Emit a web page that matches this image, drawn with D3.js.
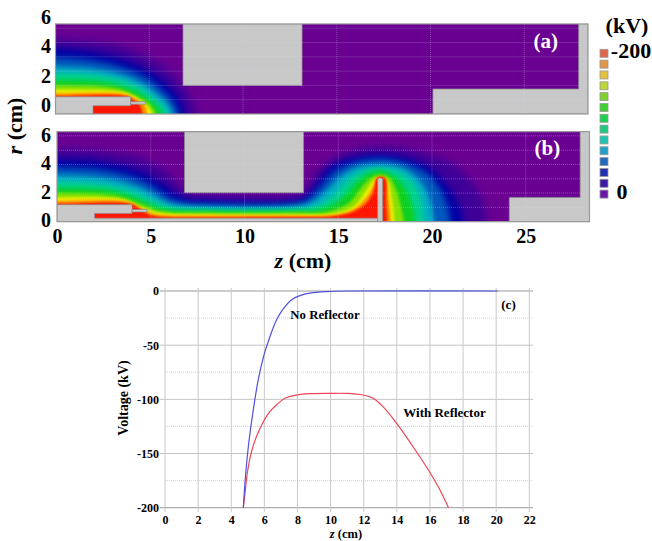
<!DOCTYPE html>
<html>
<head>
<meta charset="utf-8">
<script src="https://cdn.jsdelivr.net/npm/d3@7"></script>
<style>
  html, body { margin: 0; padding: 0; background: #fff; }
  svg { display: block; }
  text { font-family: "Liberation Serif", serif; font-weight: bold; fill: #000; }
</style>
</head>
<body>
<div id="chart"></div>
<script>
// potential bands, outermost first (colours as seen in the field plots)
var bandColors = ["#3c0098", "#0000a4", "#0058bc", "#00b0c0", "#00d08c", "#08d020", "#88e000", "#ecec00", "#ff9000", "#ff1400"];
var bandBlur = [4.5, 3.5, 3, 2.5, 2, 2, 1.6, 1.2, 1, 0.8];
var fieldBase = "#6a0092";

// contours, [z cm, r cm]
var contoursA = [
  [[0,5.25],[2,5.05],[3.5,4.7],[5,3.9],[6.3,2.7],[7,1.6],[7.35,0.8],[7.55,0]],
  [[0,4.65],[2,4.35],[3.5,3.9],[5,3.0],[6.1,1.9],[6.65,1],[6.9,0]],
  [[0,3.95],[2,3.75],[3.5,3.3],[4.95,2.45],[5.9,1.4],[6.35,0.7],[6.55,0]],
  [[0,3.3],[2,3.15],[3.5,2.75],[4.75,2.05],[5.6,1.2],[6.05,0.6],[6.25,0]],
  [[0,2.85],[2,2.75],[3.3,2.45],[4.55,1.8],[5.35,1.0],[5.8,0.5],[5.95,0]],
  [[0,2.4],[2,2.3],[3.3,2.05],[4.35,1.55],[5.1,0.9],[5.5,0.4],[5.65,0]],
  [[0,2.0],[2,1.95],[3.4,1.75],[4.2,1.35],[4.9,0.8],[5.2,0.4],[5.35,0]],
  [[0,1.7],[3.5,1.55],[4.2,1.2],[4.8,0.7],[5.05,0.3],[5.15,0]],
  [[0,1.45],[3.6,1.4],[4.2,1.1],[4.7,0.7],[4.85,0.3],[4.88,0]],
  [[0,1.25],[3.8,1.25],[4.15,1.0],[4.45,0.7],[4.6,0.3],[4.62,0]]
];

// contours
var contoursB = [
  [[0,5.1],[2.5,4.9],[4.5,4.4],[5.8,3.5],[6.5,2.5],[6.9,2.05],[8,1.85],[12.4,1.85],[13.15,2.0],[13.35,2.6],[14,3.6],[15,4.6],[16,5.05],[17.23,5.25],[19,5.0],[21,4.1],[22.3,2.5],[22.8,1],[22.9,0]],
  [[0,4.4],[2.5,4.2],[4.5,3.5],[5.6,2.7],[6.3,2.0],[7,1.6],[8,1.5],[12.43,1.4],[13.15,1.65],[13.75,2.45],[14.55,3.85],[16,4.55],[17.23,4.72],[18.65,4.45],[20.07,3.6],[21.1,1.98],[21.5,1],[21.65,0]],
  [[0,3.8],[2.5,3.6],[4.3,3.0],[5.3,2.3],[6,1.65],[6.8,1.35],[8,1.25],[12.4,1.25],[13.3,1.5],[13.95,2.3],[14.8,3.5],[16,4.2],[17.23,4.4],[18.6,4.1],[19.9,3.2],[20.5,2.1],[20.85,0.9],[20.95,0]],
  [[0,3.25],[2.5,3.05],[4,2.6],[5,2.0],[5.8,1.4],[6.6,1.15],[8,1.05],[12.43,1.05],[13.4,1.28],[14.2,1.98],[15.1,3.15],[16,3.8],[17.23,4.0],[18.5,3.73],[19.45,2.7],[19.9,1.5],[20.1,0]],
  [[0,2.8],[2.5,2.6],[4.2,2.05],[5.2,1.45],[6,1.05],[7,0.92],[12.4,0.9],[13.8,1.1],[14.8,1.9],[15.6,3.0],[16.4,3.6],[17.23,3.78],[18.2,3.5],[19,2.7],[19.4,1.5],[19.55,0]],
  [[0,2.35],[3,2.15],[4.5,1.5],[5.4,1.0],[6.3,0.8],[7.5,0.75],[12.43,0.75],[14.2,0.93],[15.3,1.75],[16.1,2.9],[16.7,3.4],[17.23,3.56],[17.85,3.26],[18.5,2.45],[18.9,1.3],[19.1,0]],
  [[0,2.0],[3.2,1.8],[4.5,1.22],[5.3,0.82],[6.2,0.65],[7.5,0.62],[12.4,0.62],[14.5,0.72],[15.6,1.35],[16.3,2.5],[16.8,3.1],[17.23,3.3],[17.7,3.1],[18.1,2.2],[18.35,1],[18.5,0]],
  [[0,1.7],[3.5,1.55],[4.5,1.0],[5.2,0.7],[6,0.55],[7.5,0.52],[12.43,0.51],[14.74,0.58],[15.8,1.05],[16.5,2.2],[16.87,2.9],[17.23,3.15],[17.62,2.9],[17.85,1.75],[18,0]],
  [[0,1.45],[3.7,1.4],[4.5,0.92],[5.1,0.55],[6,0.44],[7.5,0.42],[12.4,0.42],[14.7,0.46],[15.8,0.85],[16.5,1.7],[16.9,2.55],[17.2,3.1],[17.5,2.9],[17.7,1.5],[17.8,0]],
  [[0,1.25],[3.9,1.25],[4.5,0.85],[4.9,0.5],[5.4,0.35],[7,0.3],[12.4,0.33],[14.7,0.38],[15.8,0.7],[16.5,1.3],[16.9,2.2],[17.05,3.05],[17.5,3.05],[17.55,1.5],[17.6,0]]
];

// metal parts, polygons in [z, r]
var wallsA = [
  [[6.8,6.3],[13.15,6.3],[13.15,2],[6.8,2]],
  [[20.13,0],[20.13,1.75],[27.9,1.75],[27.9,6.3],[28.4,6.3],[28.4,0]],
  [[0,0],[0,1.2],[4,1.2],[4,0.58],[2,0.58],[2,0]],
  [[4,0.68],[4.8,0.68],[4.8,0.86],[4,0.86]]
];
var wallsB = [
  [[6.8,6.3],[13.15,6.3],[13.15,2.03],[6.8,2.03]],
  [[24.12,0],[24.12,1.7],[27.9,1.7],[27.9,6.3],[28.4,6.3],[28.4,0]],
  [[0,0],[0,1.19],[4,1.19],[4,0.58],[2,0.58],[2,0.25],[17.1,0.25],[17.1,0]],
  [[4,0.68],[4.8,0.68],[4.8,0.86],[4,0.86]],
  [[17.1,0],[17.1,2.95],[17.18,3.05],[17.3,3.05],[17.37,2.95],[17.37,0]]
];

var fieldZTicks = [0, 5, 10, 15, 20, 25];
var fieldRTicks = [0, 2, 4, 6];
var gridZ = [5, 10, 15, 20, 25];
var gridR = [1, 2, 3, 4, 5, 6];

var legendColors = ["#e0654a", "#e09548", "#e2c23c", "#bcd838", "#80d030", "#40d030", "#20d050", "#20c880", "#20c4b0", "#20a0c8", "#2068c0", "#2030b0", "#3a18a8", "#6a18a8"];

// panel (c)
var noReflZ = [4.73, 4.83, 5.03, 5.33, 5.63, 5.98, 6.34, 6.74, 7.14, 7.65, 8.15, 8.75, 9.76, 11, 20.1];
var noReflV = [-200, -177, -144, -110, -82, -59, -42, -26.5, -16.5, -8, -4.3, -2, -0.6, 0, 0];
var reflZ = [4.73, 4.83, 4.97, 5.23, 5.53, 5.94, 6.34, 6.74, 7.24, 7.95, 8.75, 9.96, 10.96, 11.97, 12.57, 13.18, 13.98, 14.99, 16, 16.6, 17.12];
var reflV = [-200, -187, -168, -148, -134, -120.6, -111, -105, -99, -96, -94.8, -94.5, -94.5, -96, -99, -107, -122, -144, -167.5, -183.5, -200];
var voltTicks = [0, -50, -100, -150, -200];
var voltMinor = [-25, -75, -125, -175];
var zTicks = [0, 2, 4, 6, 8, 10, 12, 14, 16, 18, 20, 22];

var svg = d3.select("#chart").append("svg").attr("width", 652).attr("height", 541);
var defs = svg.append("defs");
bandBlur.forEach(function (b, i) {
  defs.append("filter").attr("id", "soft" + i)
      .attr("filterUnits", "userSpaceOnUse")
      .attr("x", 0).attr("y", 0).attr("width", 652).attr("height", 541)
    .append("feGaussianBlur").attr("stdDeviation", b);
});

function drawField(id, left, bottom, contours, walls, label) {
  var x = d3.scaleLinear().domain([0, 28.4]).range([left, left + 28.4 * 18.75]);
  var y = d3.scaleLinear().domain([0, 6.3]).range([bottom, bottom - 6.3 * 14.3]);

  defs.append("clipPath").attr("id", "clip" + id)
    .append("rect")
      .attr("x", x(0)).attr("y", y(6.3))
      .attr("width", x(28.4) - x(0)).attr("height", y(0) - y(6.3));

  var g = svg.append("g").attr("clip-path", "url(#clip" + id + ")");
  g.append("rect")
    .attr("x", x(0)).attr("y", y(6.3))
    .attr("width", x(28.4) - x(0)).attr("height", y(0) - y(6.3))
    .attr("fill", fieldBase);

  var curve = d3.line().x(function (d) { return x(d[0]); }).y(function (d) { return y(d[1]); })
                .curve(d3.curveCatmullRom.alpha(0.5));
  var poly = d3.line().x(function (d) { return x(d[0]); }).y(function (d) { return y(d[1]); });

  // each band is filled from its contour down to the axis, run well past the edge so the blur stays inside
  g.selectAll("path.band")
    .data(contours)
    .enter().append("path")
      .attr("class", "band")
      .attr("fill", function (d, i) { return bandColors[i]; })
      .attr("filter", function (d, i) { return "url(#soft" + i + ")"; })
      .attr("d", function (d) {
        var first = d[0], last = d[d.length - 1];
        return curve([[-2, first[1]]].concat(d, [[last[0], -2]])) +
               "L" + x(-2) + "," + y(-2) + "Z";
      });

  g.selectAll("path.wall").data(walls).enter().append("path")
    .attr("class", "wall")
    .attr("d", function (d) { return poly(d) + "Z"; })
    .attr("fill", "#c8c8c8")
    .attr("stroke", "#8c8c8c")
    .attr("stroke-width", 0.7);

  // dotted grid
  g.selectAll("line.gz").data(gridZ).enter().append("line")
    .attr("class", "gz")
    .attr("x1", x).attr("x2", x).attr("y1", y(6.3)).attr("y2", y(0))
    .attr("stroke", "#d8e0ff").attr("stroke-opacity", 0.32).attr("stroke-dasharray", "1,1");
  g.selectAll("line.gr").data(gridR).enter().append("line")
    .attr("class", "gr")
    .attr("x1", x(0)).attr("x2", x(28.4)).attr("y1", y).attr("y2", y)
    .attr("stroke", "#d8e0ff").attr("stroke-opacity", 0.32).attr("stroke-dasharray", "1,1");

  svg.append("rect")
    .attr("x", x(0)).attr("y", y(6.3))
    .attr("width", x(28.4) - x(0)).attr("height", y(0) - y(6.3))
    .attr("fill", "none").attr("stroke", "#999").attr("stroke-width", 1.2);

  svg.append("text")
    .attr("x", x(26.15)).attr("y", y(6.3) + 19)
    .attr("text-anchor", "middle").attr("dominant-baseline", "middle")
    .style("font-size", "21px").style("fill", "#fff")
    .text(label);

  return x;
}

var xA = drawField("a", 55.5, 114, contoursA, wallsA, "(a)");
var xB = drawField("b", 57, 221.7, contoursB, wallsB, "(b)");

// big tick labels, they sit off the grid in the original
function bigAxis(g) {
  g.select(".domain").remove();
  g.selectAll("line").remove();
  g.selectAll("text").style("font-size", "20px").style("font-family", '"Liberation Serif", serif')
    .style("font-weight", "bold").attr("fill", "#000");
}

var rLabelsA = d3.scaleLinear().domain([0, 6]).range([105, 17]);
var rLabelsB = d3.scaleLinear().domain([0, 6]).range([220, 135]);
svg.append("g").attr("transform", "translate(60,0)")
  .call(d3.axisLeft(rLabelsA).tickValues(fieldRTicks).tickFormat(String)).call(bigAxis);
svg.append("g").attr("transform", "translate(60,0)")
  .call(d3.axisLeft(rLabelsB).tickValues(fieldRTicks).tickFormat(String)).call(bigAxis);
svg.append("g").attr("transform", "translate(0,220)")
  .call(d3.axisBottom(xB).tickValues(fieldZTicks).tickFormat(String)).call(bigAxis);

var zTitle = svg.append("text").attr("x", 303).attr("y", 263)
  .attr("text-anchor", "middle").attr("dominant-baseline", "middle").style("font-size", "22px");
zTitle.append("tspan").style("font-style", "italic").text("z");
zTitle.append("tspan").text(" (cm)");

var rTitle = svg.append("text").attr("transform", "translate(17,126) rotate(-90)")
  .attr("text-anchor", "middle").attr("dominant-baseline", "middle").style("font-size", "22px");
rTitle.append("tspan").style("font-style", "italic").text("r");
rTitle.append("tspan").text(" (cm)");

// colour key
var keyY = d3.scalePoint().domain(d3.range(legendColors.length)).range([53.3, 194.1]);
svg.selectAll("rect.key").data(legendColors).enter().append("rect")
  .attr("class", "key")
  .attr("x", 600).attr("width", 8).attr("height", 8)
  .attr("y", function (d, i) { return keyY(i) - 4; })
  .attr("fill", function (d) { return d; })
  .attr("stroke", "#999").attr("stroke-width", 0.8);

[["(kV)", 627, 28], ["-200", 631, 53], ["0", 622, 194]].forEach(function (t) {
  svg.append("text").attr("x", t[1]).attr("y", t[2])
    .attr("text-anchor", "middle").attr("dominant-baseline", "middle")
    .style("font-size", "22px").text(t[0]);
});

// panel (c) line plot
var x = d3.scaleLinear().domain([0, 22]).range([165, 529.3]);
var y = d3.scaleLinear().domain([-200, 0]).range([507.7, 291]);

var plot = svg.append("g");
plot.selectAll("line.minor").data(voltMinor).enter().append("line")
  .attr("class", "minor")
  .attr("x1", 165).attr("x2", 533).attr("y1", y).attr("y2", y)
  .attr("stroke", "#d4d4d4").attr("stroke-dasharray", "1,1");
plot.selectAll("line.major").data(voltTicks).enter().append("line")
  .attr("class", "major")
  .attr("x1", 160).attr("x2", 533).attr("y1", y).attr("y2", y)
  .attr("stroke", function (d) { return (d === 0 || d === -200) ? "#9a9a9a" : "#c4c4c4"; });
plot.selectAll("line.vert").data(zTicks).enter().append("line")
  .attr("class", "vert")
  .attr("x1", x).attr("x2", x).attr("y1", 288).attr("y2", 512)
  .attr("stroke", "#c8c8c8");

var axisX = d3.axisBottom(x).tickValues(zTicks).tickSize(0).tickPadding(7).tickFormat(String);
var axisY = d3.axisLeft(y).tickValues(voltTicks).tickSize(0).tickPadding(6).tickFormat(String);

function smallAxis(g) {
  g.select(".domain").remove();
  g.selectAll("text").style("font-size", "12px").style("font-family", '"Liberation Serif", serif')
    .style("font-weight", "bold").attr("fill", "#222");
}
svg.append("g").attr("transform", "translate(0,508)").call(axisX).call(smallAxis);
svg.append("g").attr("transform", "translate(165,0)").call(axisY).call(smallAxis);

var voltLine = d3.line().curve(d3.curveCatmullRom.alpha(0.5))
  .x(function (d) { return x(d[0]); })
  .y(function (d) { return y(d[1]); });

plot.append("path").datum(d3.zip(reflZ, reflV))
  .attr("d", voltLine).attr("fill", "none").attr("stroke", "#ee4455").attr("stroke-width", 1.2);
plot.append("path").datum(d3.zip(noReflZ, noReflV))
  .attr("d", voltLine).attr("fill", "none").attr("stroke", "#5050e0").attr("stroke-width", 1.2);

[["No Reflector", 325, 316, 12.8], ["With Reflector", 444.5, 414, 13], ["(c)", 508.5, 306, 13]].forEach(function (t) {
  svg.append("text").attr("x", t[1]).attr("y", t[2])
    .attr("text-anchor", "middle").attr("dominant-baseline", "middle")
    .style("font-size", t[3] + "px").text(t[0]);
});

svg.append("text").attr("transform", "translate(125,398) rotate(-90)")
  .attr("text-anchor", "middle").attr("dominant-baseline", "middle")
  .style("font-size", "14px").text("Voltage (kV)");

var cTitle = svg.append("text").attr("x", 346).attr("y", 535)
  .attr("text-anchor", "middle").attr("dominant-baseline", "middle").style("font-size", "12.5px");
cTitle.append("tspan").style("font-style", "italic").text("z");
cTitle.append("tspan").text(" (cm)");
</script>
</body>
</html>
